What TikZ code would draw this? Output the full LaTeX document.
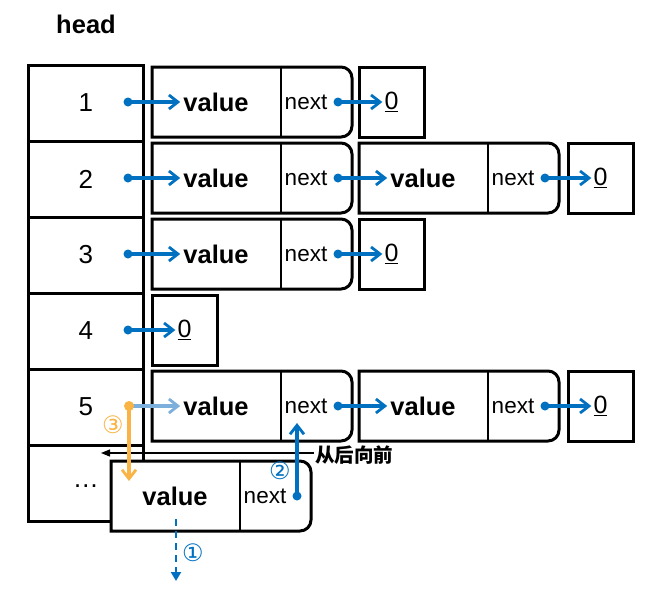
\documentclass[tikz,border=0pt]{standalone}
\usepackage{fontspec}
\setmainfont{Liberation Sans}
\newfontfamily\cjkfont{Noto Sans CJK SC}
\newfontfamily\dvfont{DejaVu Sans}
\usetikzlibrary{arrows.meta}
\definecolor{myblue}{RGB}{0,112,192}
\definecolor{lblue}{RGB}{125,175,220}
\definecolor{morange}{RGB}{250,180,70}
\tikzset{
  cell/.style={draw, line width=3pt, minimum width=114.5pt, minimum height=76pt, inner sep=0pt, font=\fontsize{26}{30}\selectfont},
  zbox/.style={draw, line width=3pt, minimum width=65pt, minimum height=70pt, inner sep=0pt, fill=white},
  ztext/.style={font=\fontsize{25}{29}\selectfont, inner sep=2pt},
  vtext/.style={font=\fontsize{25.5}{30}\selectfont\bfseries, inner sep=3pt},
  ntext/.style={font=\fontsize{22.5}{26}\selectfont, inner sep=2pt},
  tip/.style={-{Straight Barb[length=9pt,width=14pt,line width=2.8pt]}},
  ptr/.style={myblue, line width=3.3pt, tip},
  circnum/.style={font=\dvfont\fontsize{24}{26}\selectfont, inner sep=0pt},
}
\newcommand\llnode[3]{%
  \draw[line width=3pt, fill=white] (#2,#3) [rounded corners=11pt] -- ({#2+200},#3) -- ({#2+200},{#3+70}) [sharp corners] -- (#2,{#3+70}) -- cycle;
  \draw[line width=1.5pt] ({#2+129},#3) -- ({#2+129},{#3+70});
  \node[vtext] (#1v) at ({#2+64},{#3+35}) {value};
  \node[ntext] (#1n) at ({#2+154},{#3+35}) {next};
  \coordinate (#1d) at ({#2+186},{#3+35});
}
\newcommand\zeronode[3]{%
  \node[zbox] (#1) at (#2,#3) {};
  \node[ztext] (#1t) at (#1.center) {\underline{0}};
}
\begin{document}
\begin{tikzpicture}[x=1pt,y=-1pt]
\useasboundingbox (0,0) rectangle (660,589);
\node[font=\fontsize{25.5}{30}\selectfont\bfseries] (head) at (86,24) {head};
% head table
\node[cell] (h1) at (85.75,103) {1};
\node[cell] (h2) at (85.75,179) {2};
\node[cell] (h3) at (85.75,255) {3};
\node[cell] (h4) at (85.75,331) {4};
\node[cell] (h5) at (85.75,407) {5};
\node[cell] (h6) at (85.75,483) {\raisebox{-8pt}{…}};
% row 1
\llnode{a}{152}{67}
\zeronode{z1}{391.5}{102}
% row 2
\llnode{b}{152}{143}
\llnode{c}{359}{143}
\zeronode{z2}{600.5}{178}
% row 3
\llnode{d}{152}{219}
\zeronode{z3}{391.5}{254}
% row 4
\zeronode{z4}{184.5}{330}
% row 5
\llnode{e}{152}{371}
\llnode{f}{359}{371}
\zeronode{z5}{600.5}{406}
% head pointers
\coordinate (p1) at (128,102);
\coordinate (p2) at (128,178);
\coordinate (p3) at (128,254);
\coordinate (p4) at (128,330);
\coordinate (p5) at (129,406);
\draw[ptr] (p1) -- (av.west);
\draw[ptr] (p2) -- (bv.west);
\draw[ptr] (p3) -- (dv.west);
\draw[ptr] (p4) -- (z4t.west);
\draw[lblue, line width=3.3pt, tip] (p5) -- (ev.west);
% next pointers
\draw[ptr] (ad) -- (z1t.west);
\draw[ptr] (bd) -- (cv.west);
\draw[ptr] (cd) -- (z2t.west);
\draw[ptr] (dd) -- (z3t.west);
\draw[ptr] (ed) -- (fv.west);
\draw[ptr] (fd) -- (z5t.west);
\foreach \c in {p1,p2,p3,p4,ad,bd,cd,dd,ed,fd} \fill[myblue] (\c) circle (4.5pt);
% back-to-front arrow
\node[font=\cjkfont\bfseries\fontsize{19.5}{22}\selectfont, inner sep=1pt] (bf) at (354,455) {从后向前};
\coordinate (bfend) at (101,453);
\draw[line width=1.2pt, -{Triangle[length=9pt,width=7pt]}] (bf.west |- bfend) -- (bfend);
% new node
\llnode{g}{111}{461}
\fill[myblue] (gd) circle (4.5pt);
\coordinate (g2) at (297,423);
\draw[ptr] (gd) -- (g2);
\node[circnum, myblue] (n2) at (280,471) {②};
% step 1
\coordinate (s1a) at (176,519);
\coordinate (s1b) at (176,581);
\draw[myblue, line width=2pt, dash pattern=on 7pt off 5pt, -{Triangle[length=9pt,width=10pt]}] (s1a) -- (s1b);
\node[circnum, myblue] (n1) at (193,553) {①};
% step 3
\coordinate (o3) at (129,481);
\draw[morange, line width=3.3pt, tip] (p5) -- (o3);
\fill[morange] (p5) circle (5pt);
\node[circnum, morange] (n3) at (113,425) {③};
\end{tikzpicture}
\end{document}
